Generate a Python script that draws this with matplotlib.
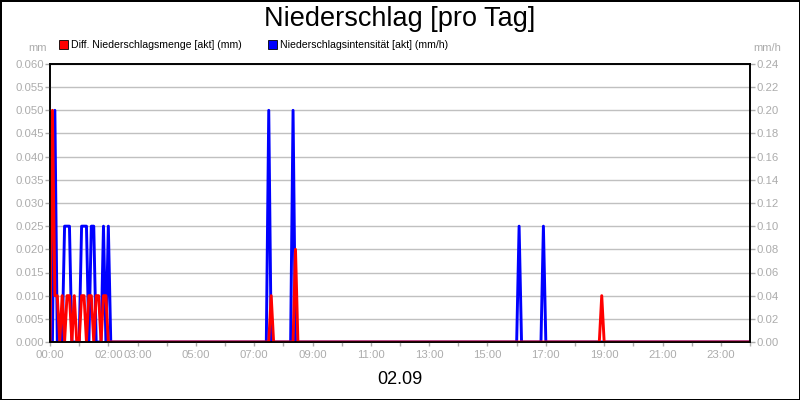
import matplotlib
matplotlib.use("Agg")
import matplotlib.pyplot as plt
from matplotlib.patches import Rectangle

plt.rcParams['font.family'] = ['Liberation Sans', 'DejaVu Sans']

# Diff. Niederschlagsmenge [akt] (mm) -> left axis
menge_times = ["00:00", "00:05", "00:10", "00:15", "00:20", "00:25", "00:30", "00:35",
               "00:40", "00:45", "00:50", "00:55", "01:00", "01:05", "01:10", "01:15",
               "01:20", "01:25", "01:30", "01:35", "01:40", "01:45", "01:50", "01:55",
               "02:00", "07:30", "07:35", "07:40", "08:20", "08:25", "08:30",
               "18:50", "18:55", "19:00", "24:00"]
menge_values = [0, 0.05, 0.01, 0.01, 0, 0.01, 0, 0.01,
                0.01, 0, 0.01, 0, 0, 0.01, 0.01, 0,
                0.01, 0.01, 0, 0.01, 0.01, 0, 0.01, 0.01,
                0, 0, 0.01, 0, 0, 0.02, 0,
                0, 0.01, 0, 0]

# Niederschlagsintensität [akt] (mm/h) -> right axis
intens_times = ["00:00", "00:05", "00:10", "00:15", "00:25", "00:30", "00:35", "00:40",
                "00:45", "01:00", "01:05", "01:10", "01:15", "01:20", "01:25", "01:30",
                "01:35", "01:45", "01:50", "01:55", "02:00", "02:05",
                "07:25", "07:30", "07:35", "08:15", "08:20", "08:25",
                "16:00", "16:05", "16:10", "16:50", "16:55", "17:00", "24:00"]
intens_values = [0, 0, 0.2, 0, 0, 0.1, 0.1, 0.1,
                 0, 0, 0.1, 0.1, 0.1, 0, 0.1, 0.1,
                 0, 0, 0.1, 0, 0.1, 0,
                 0, 0.2, 0, 0, 0.2, 0,
                 0, 0.1, 0, 0, 0.1, 0, 0]

left_ticks = [0.000, 0.005, 0.010, 0.015, 0.020, 0.025, 0.030,
              0.035, 0.040, 0.045, 0.050, 0.055, 0.060]
right_ticks = [0.00, 0.02, 0.04, 0.06, 0.08, 0.10, 0.12,
               0.14, 0.16, 0.18, 0.20, 0.22, 0.24]
hour_labels = ["00:00", "", "02:00", "03:00", "", "05:00", "", "07:00", "", "09:00",
               "", "11:00", "", "13:00", "", "15:00", "", "17:00", "", "19:00",
               "", "21:00", "", "23:00", ""]

GREY = '#acacac'


def to_hours(t):
    h, m = t.split(':')
    return int(h) + int(m) / 60


fig = plt.figure(figsize=(8, 4), dpi=100, edgecolor='black', linewidth=2)

ax = fig.add_axes([50 / 800, 1 - 342 / 400, 700 / 800, 278 / 400])
axr = ax.twinx()
# red (left axis) drawn above blue (right axis)
ax.set_zorder(axr.get_zorder() + 1)
ax.patch.set_visible(False)

axr.plot([to_hours(t) for t in intens_times], intens_values, color='#0000ff', lw=2.1)
ax.plot([to_hours(t) for t in menge_times], menge_values, color='#ff0000', lw=2.1)

ax.set_xlim(0, 24)
ax.set_ylim(0, 0.06)
axr.set_ylim(0, 0.24)

ax.set_yticks(left_ticks)
ax.set_yticklabels([f"{v:.3f}" for v in left_ticks])
axr.set_yticks(right_ticks)
axr.set_yticklabels([f"{v:.2f}" for v in right_ticks])
ax.set_xticks(range(len(hour_labels)))
ax.set_xticklabels(hour_labels)

# grid sits on the lower axes so the lines stay on top
axr.set_xticks(range(len(hour_labels)))
axr.grid(True, color='#c0c0c0', lw=1)
axr.set_axisbelow(True)

for a in (ax, axr):
    a.tick_params(colors=GREY, labelsize=8.2, length=3.5, width=1, pad=1)
    for s in a.spines.values():
        s.set_color('black')
        s.set_linewidth(1.2)
ax.tick_params(axis='x', length=3, pad=3)

# axis units
fig.text(47 / 800, 1 - 48 / 400, 'mm', ha='right', va='center', color=GREY, size=8)
fig.text(753 / 800, 1 - 48 / 400, 'mm/h', ha='left', va='center', color=GREY, size=8)

# legend
fig.patches.append(Rectangle((59 / 800, 1 - 49 / 400), 9 / 800, 9 / 400, transform=fig.transFigure,
                             facecolor='#ff0000', edgecolor='black', lw=0.6))
fig.text(71 / 800, 1 - 45 / 400, 'Diff. Niederschlagsmenge [akt] (mm)', ha='left', va='center', size=7.6)
fig.patches.append(Rectangle((268 / 800, 1 - 49 / 400), 9 / 800, 9 / 400, transform=fig.transFigure,
                             facecolor='#0000ff', edgecolor='black', lw=0.6))
fig.text(280 / 800, 1 - 45 / 400, 'Niederschlagsintensität [akt] (mm/h)', ha='left', va='center', size=7.6)

fig.text(0.5, 1 - 19 / 400, 'Niederschlag [pro Tag]', ha='center', va='center', size=19.5)
fig.text(0.5, 1 - 380 / 400, '02.09', ha='center', va='center', size=13)

fig.savefig('out.png', dpi=100)
